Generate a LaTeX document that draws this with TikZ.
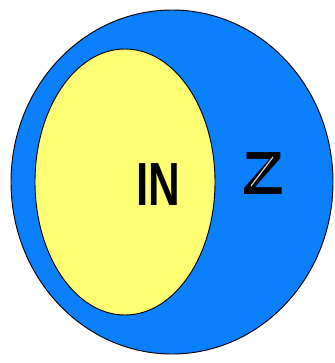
\documentclass[tikz,border=0pt]{standalone}
\usepackage{fontspec}
\usepackage{graphicx}
\usepackage{tikz}
\usepackage{xcolor}
\setmainfont{Liberation Sans}
\definecolor{setblue}{RGB}{10,128,255}
\definecolor{setyellow}{RGB}{255,255,115}

\begin{document}
\begin{tikzpicture}[x=0.03cm, y=-0.03cm,
    outerset/.style={draw=black, line width=0.8pt, fill=setblue},
    innerset/.style={draw=black, line width=0.8pt, fill=setyellow},
    setlabel/.style={font=\fontsize{52}{60}\selectfont\bfseries, inner sep=0pt}
]
    \useasboundingbox (0,0) rectangle (334,363);
    \fill[white] (0,0) rectangle (334,363);

    \draw[outerset] (172,182) ellipse [x radius=161, y radius=172];
    \draw[innerset] (125,182) ellipse [x radius=90, y radius=133];

    \node[setlabel] (nat) at (158,184.5) {\scalebox{0.72}[1]{IN}};
    \node[setlabel] (int) at (263,173.5) {\scalebox{1.12}[1]{Z}};
    % double stroke of the Z
    \draw[white!85!black, line width=1pt] (251,186) -- (273,157);
\end{tikzpicture}
\end{document}
